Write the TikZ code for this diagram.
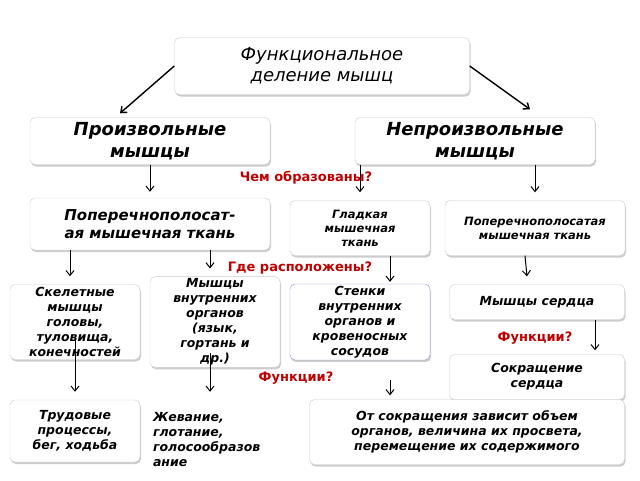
\documentclass[tikz,border=0pt]{standalone}
\usepackage{fontspec}
\setmainfont{DejaVu Sans}
\usetikzlibrary{shadows,arrows.meta}

\tikzset{
  box/.style={draw=gray!40, fill=white, rounded corners=5pt, drop shadow={shadow xshift=1pt, shadow yshift=-2pt, opacity=0.4}, font=\bfseries\itshape\fontsize{12.5}{15}\selectfont, align=center, inner sep=2pt},
  ask/.style={text=red!75!black, font=\bfseries\fontsize{13}{15}\selectfont},
  arr/.style={-{Straight Barb[length=5pt,width=8pt]}, line width=1pt}
}

\begin{document}
\begin{tikzpicture}[x=1pt,y=-1pt]
  \useasboundingbox (0,0) rectangle (640,480);
  % questions behind the boxes
  \node[ask] (qform) at (306,178) {Чем образованы?};
  \node[ask] (qplace) at (300,268) {Где расположены?};
  \node[ask] (qfunc) at (296,378) {Функции?};
  \node[ask] (qheart) at (535,338) {Функции?};

  % level 1
  \node[box, minimum width=295, minimum height=57, font=\itshape\fontsize{18}{21}\selectfont] (title) at (322,66) {Функциональное\\деление мышц};
  \node[box, minimum width=240, minimum height=47, font=\bfseries\itshape\fontsize{18}{22}\selectfont] (vol) at (150,141) {Произвольные\\мышцы};
  \node[box, minimum width=240, minimum height=47, font=\bfseries\itshape\fontsize{18}{22}\selectfont] (invol) at (475,141) {Непроизвольные\\мышцы};

  % level 2
  \node[box, minimum width=240, minimum height=52, text width=220, font=\bfseries\itshape\fontsize{15}{18}\selectfont] (striped) at (150,224) {Поперечнополосат\-ая мышечная ткань};
  \node[box, minimum width=140, minimum height=55, text width=100, font=\bfseries\itshape\fontsize{11.5}{14}\selectfont] (smooth) at (360,228) {Гладкая мышечная ткань};
  \node[box, minimum width=180, minimum height=55, text width=150, font=\bfseries\itshape\fontsize{11.5}{14}\selectfont] (cardiac) at (535,228) {Поперечнополоса\-тая мышечная ткань};

  % level 3
  \node[box, minimum width=130, minimum height=75] (skel) at (75,322) {Скелетные\\мышцы\\головы,\\туловища,\\конечностей};
  \node[box, minimum width=130, minimum height=75] (inner) at (215,322) {Мышцы\\внутренних\\органов\\(язык,\\гортань и\\др.)};
  \node[box, draw=blue!40!gray!60, minimum width=140, minimum height=75] (walls) at (360,322) {Стенки\\внутренних\\органов и\\кровеносных\\сосудов};
  \node[box, minimum width=175, minimum height=35] (heart) at (537,302) {Мышцы сердца};

  % level 4
  \node[box, minimum width=175, minimum height=45] (beat) at (537,377) {Сокращение\\сердца};
  \node[box, minimum width=130, minimum height=62] (work) at (75,431) {Трудовые\\процессы,\\бег, ходьба};
  \node[fill=white, font=\bfseries\itshape\fontsize{12.5}{15}\selectfont, minimum width=140, minimum height=80, text width=134, align=left] (chew) at (220,440) {Жевание,\\глотание,\\голосообразов\\ание};
  \node[box, minimum width=315, minimum height=65] (flow) at (467,432) {От сокращения зависит объем\\органов, величина их просвета,\\перемещение их содержимого};

  % connectors
  \draw[arr, line width=1.4pt] (title.west) -- ([xshift=-30pt,yshift=4pt]vol.north);
  \draw[arr, line width=1.4pt] (title.east) -- ([xshift=55pt,yshift=8pt]invol.north);
  \draw[arr] (vol.south) -- ([yshift=6pt]striped.north);
  \draw[arr] (invol.south -| smooth.north) -- ([yshift=8pt]smooth.north);
  \draw[arr] (invol.south -| cardiac.north) -- ([yshift=8pt]cardiac.north);
  \draw[arr] ([xshift=-80pt]striped.south) -- ([xshift=-80pt,yshift=8pt]striped.south |- skel.north);
  \draw[arr] ([xshift=60pt]striped.south) -- ([xshift=60pt,yshift=8pt]striped.south |- inner.north);
  \draw[arr] ([xshift=30pt]smooth.south) -- ([xshift=30pt,yshift=2pt]smooth.south |- walls.north);
  \draw[arr] ([xshift=-10pt]cardiac.south) -- ([xshift=-10pt,yshift=8pt]heart.north);
  \draw[arr] ([xshift=58pt]heart.south) -- ([xshift=58pt,yshift=4pt]beat.north);
  \draw[arr] ([yshift=20pt]skel.south) -- ([yshift=8pt]work.north);
  \draw[arr] ([xshift=-5pt,yshift=15pt]inner.south) -- ([xshift=-5pt,yshift=8pt]inner.south |- chew.north);
  \draw[arr] ([xshift=30pt,yshift=-20pt]walls.south) -- ([xshift=30pt,yshift=4pt]walls.south |- flow.north);
\end{tikzpicture}
\end{document}
